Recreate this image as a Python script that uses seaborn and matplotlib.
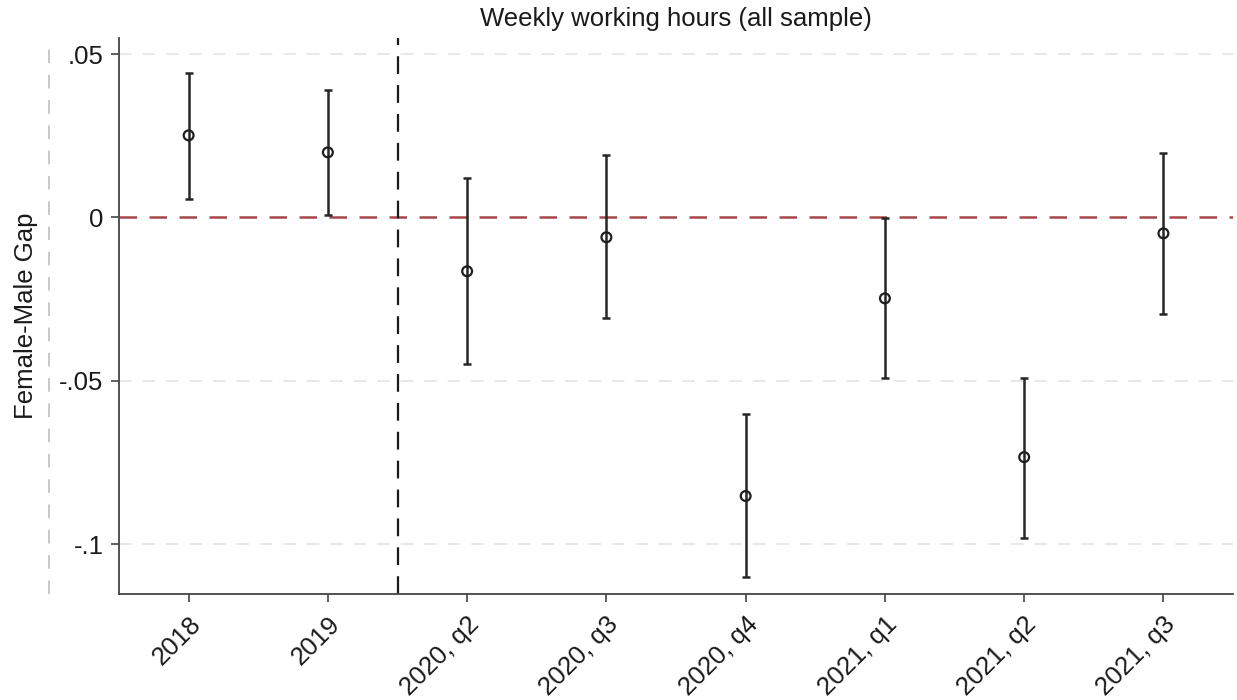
import numpy as np
import pandas as pd
import matplotlib
matplotlib.use("Agg")
import matplotlib.pyplot as plt
import seaborn as sns

# Estimated female-male gap by period, with 95% confidence bounds
periods = ["2018", "2019", "2020, q2", "2020, q3", "2020, q4",
           "2021, q1", "2021, q2", "2021, q3"]
estimate = [0.0251, 0.0199, -0.0165, -0.0061, -0.0853, -0.0248, -0.0734, -0.0049]
ci_low = [0.0055, 0.0006, -0.0450, -0.0309, -0.1101, -0.0492, -0.0982, -0.0297]
ci_high = [0.0443, 0.0391, 0.0119, 0.0190, -0.0602, -0.0003, -0.0492, 0.0196]
ytick_values = [0.05, 0.0, -0.05, -0.1]
ytick_labels = [".05", "0", "-.05", "-.1"]

df = pd.DataFrame({"period": periods, "estimate": estimate,
                   "low": ci_low, "high": ci_high})
df["pos"] = np.arange(len(df))

sns.set_theme(style="white")
plt.rcParams["font.family"] = ["Liberation Sans", "DejaVu Sans"]

fig = plt.figure(figsize=(12.37, 7.0), dpi=100)
ax = fig.add_axes([0.0962, 0.1514, 0.9006, 0.7943])

# Horizontal reference grid
for v in ytick_values:
    if v != 0:
        ax.axhline(v, color="#e6e6e6", lw=1.3, dashes=(7, 6), zorder=0)
ax.axhline(0, color="#a5464b", lw=1.8, dashes=(7, 5), zorder=1)
ax.axvline(1.5, color="#1a1a1a", lw=1.6, dashes=(8, 5), zorder=1)

# Confidence intervals
ax.errorbar(df["pos"], df["estimate"],
            yerr=[df["estimate"] - df["low"], df["high"] - df["estimate"]],
            fmt="none", ecolor="#262626", elinewidth=1.8, capsize=3,
            capthick=1.8, zorder=2)

# Point estimates (hollow circles)
sns.scatterplot(data=df, x="pos", y="estimate", ax=ax, marker="o", s=50,
                facecolor="none", edgecolor="#1f1f1f", linewidth=1.6,
                zorder=3, legend=False)

ax.set_xlim(-0.5, len(df) - 0.5)
ax.set_ylim(-0.1153, 0.0549)
ax.set_xticks(df["pos"])
ax.set_xticklabels(df["period"], rotation=45, ha="right",
                   rotation_mode="anchor")
ax.set_yticks(ytick_values)
ax.set_yticklabels(ytick_labels)
ax.tick_params(axis="both", direction="out", length=6, width=1.2,
               color="#444444", bottom=True, left=True, labelsize=18.5,
               labelcolor="#1a1a1a")
ax.tick_params(axis="x", pad=7)
ax.tick_params(axis="y", pad=5)

ax.set_xlabel("")
ax.set_ylabel("Female-Male Gap", fontsize=18.5, color="#1a1a1a")
ax.yaxis.set_label_coords(-0.073, 0.5)
ax.set_title("Weekly working hours (all sample)", fontsize=18.5,
             color="#1a1a1a", pad=9)

for side in ["top", "right"]:
    ax.spines[side].set_visible(False)
for side in ["left", "bottom"]:
    ax.spines[side].set_color("#444444")
    ax.spines[side].set_linewidth(1.3)

# Outer plot-region border on the left
fig.add_artist(plt.Line2D([49 / 1237, 49 / 1237], [0.1514, 0.9457],
                          transform=fig.transFigure, color="#c8c8c8",
                          lw=1.4, dashes=(7, 6)))

ax.grid(False)
fig.savefig("out.png", dpi=100, facecolor="white")
